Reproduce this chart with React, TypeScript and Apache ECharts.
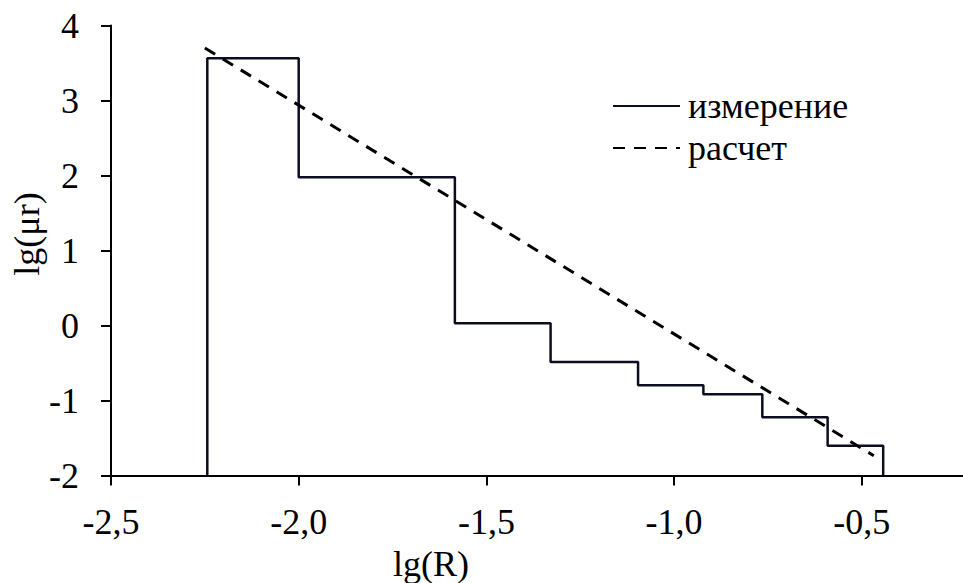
import React, { useEffect, useRef } from "react";
import * as echarts from "echarts";

// Bin boundaries of lg(R) and the measured lg(μr) level on each bin
const binEdges = [-2.2435, -2.0, -1.584, -1.329, -1.096, -0.922, -0.765, -0.591, -0.443];
const measuredLevels = [3.563, 1.976, 0.029, -0.487, -0.797, -0.917, -1.224, -1.603];

// Calculated straight line: end points in (lg(R), lg(μr))
const calcX = [-2.25, -0.468];
const calcY = [3.7, -1.736];

const xTicks = [-2.5, -2.0, -1.5, -1.0, -0.5];
const yTicks = [-2, -1, 0, 1, 2, 3, 4];

const seriesNames = ["измерение", "расчет"];

const FONT = "'Liberation Serif', 'Times New Roman', serif";

export default function App() {
  const ref = useRef<HTMLDivElement>(null);

  useEffect(() => {
    if (!ref.current) return;
    const chart = echarts.init(ref.current, undefined, { renderer: "svg" });

    const yMin = yTicks[0];
    const yMax = yTicks[yTicks.length - 1];

    // Histogram outline: rise from the baseline, step across each bin, drop back down
    const stepData: number[][] = [[binEdges[0], yMin]];
    measuredLevels.forEach((lvl, i) => stepData.push([binEdges[i + 1], lvl]));
    stepData.push([binEdges[binEdges.length - 1], yMin]);

    const calcData = calcX.map((x, i) => [x, calcY[i]]);

    chart.setOption({
      animation: false,
      backgroundColor: "#ffffff",
      grid: { left: 111, top: 25.5, width: 852, height: 450, containLabel: false },
      xAxis: {
        type: "value",
        min: xTicks[0],
        max: -0.2304,
        interval: 0.5,
        axisLine: { show: true, onZero: false, lineStyle: { color: "#000", width: 2 } },
        axisTick: {
          show: true,
          length: 10,
          customValues: xTicks,
          lineStyle: { color: "#000", width: 2 },
        },
        axisLabel: {
          customValues: xTicks,
          margin: 28,
          color: "#000",
          fontSize: 36,
          fontFamily: FONT,
          formatter: (v: number) => v.toFixed(1).replace(".", ","),
        },
        splitLine: { show: false },
      },
      yAxis: {
        type: "value",
        min: yMin,
        max: yMax,
        interval: 1,
        axisLine: { show: true, onZero: false, lineStyle: { color: "#000", width: 2 } },
        axisTick: { show: true, length: 10, lineStyle: { color: "#000", width: 2 } },
        axisLabel: {
          margin: 32,
          color: "#000",
          fontSize: 36,
          fontFamily: FONT,
          formatter: (v: number) => String(v),
        },
        splitLine: { show: false },
      },
      legend: {
        data: seriesNames,
        orient: "vertical",
        left: 607,
        top: 83,
        itemWidth: 67,
        itemHeight: 14,
        itemGap: 6,
        itemStyle: { opacity: 0 },
        textStyle: { color: "#000", fontSize: 36, fontFamily: FONT, padding: [0, 0, 0, 3] },
      },
      graphic: [
        {
          type: "text",
          x: 431,
          y: 564,
          style: {
            text: "lg(R)",
            fill: "#000",
            fontSize: 36,
            fontFamily: FONT,
            textAlign: "center",
            textVerticalAlign: "middle",
          },
        },
        {
          type: "text",
          x: 27,
          y: 234,
          rotation: Math.PI / 2,
          style: {
            text: "lg(μr)",
            fill: "#000",
            fontSize: 36,
            fontFamily: FONT,
            textAlign: "center",
            textVerticalAlign: "middle",
          },
        },
      ],
      series: [
        {
          name: seriesNames[0],
          type: "line",
          step: "start",
          data: stepData,
          symbol: "none",
          lineStyle: { color: "#0d0d22", width: 2.5 },
          itemStyle: { color: "#0d0d22" },
          z: 3,
        },
        {
          name: seriesNames[1],
          type: "line",
          data: calcData,
          symbol: "none",
          lineStyle: { color: "#000", width: 3, type: [12, 9] },
          itemStyle: { color: "#000" },
          z: 4,
        },
      ],
    });

    return () => chart.dispose();
  }, []);

  return <div ref={ref} style={{ width: 963, height: 583, position: "absolute", left: 0, top: 0 }} />;
}
